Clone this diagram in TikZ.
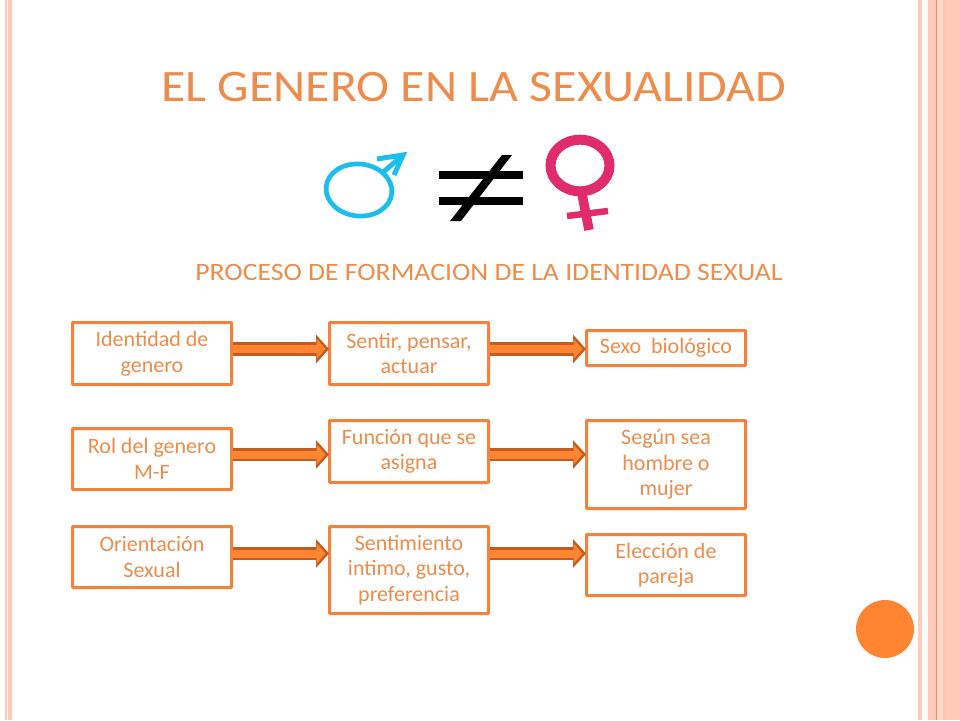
\documentclass[tikz,border=0pt]{standalone}
\usepackage{fontspec}
\setmainfont{Carlito}
\usetikzlibrary{arrows.meta}
\definecolor{bar}{RGB}{255,203,184}
\definecolor{barline}{RGB}{245,140,90}
\definecolor{tx}{RGB}{238,140,75}
\definecolor{bx}{RGB}{243,130,60}
\definecolor{fillo}{RGB}{255,133,51}
\definecolor{dk}{RGB}{196,92,32}
\definecolor{male}{RGB}{28,190,238}
\definecolor{fem}{RGB}{224,44,108}
\tikzset{
  x=1pt,y=-1pt,
  box/.style={draw=bx,line width=3pt,fill=white,inner sep=0pt,minimum width=159pt,text=tx,
    align=center,font=\fontsize{22}{25.5}\selectfont,rounded corners=0.8pt},
  blockarrow/.style={draw=dk,line width=13.5pt,shorten >=-1pt,-{Triangle[length=13pt,width=28pt]},
    postaction={draw=fillo,line width=8pt,shorten >=2.5pt,-{Triangle[length=9pt,width=20pt]}}},
  stripe/.style={fill=bar,draw=none},
  label/.style={text=tx,inner sep=0pt}
}
\begin{document}
\begin{tikzpicture}
\useasboundingbox (0,0) rectangle (960,720);
\fill[white] (0,0) rectangle (960,720);
% stripes
\fill[stripe] (5,0) rectangle (6.5,720);
\fill[stripe] (8,0) rectangle (11.5,720);
\fill[stripe] (918,0) rectangle (922,720);
\fill[stripe] (928,0) rectangle (960,720);
\fill[barline] (936.3,0) rectangle (937.3,720);
\fill[bar!75!white] (937.3,0) rectangle (943,720);
\fill[bar!90!barline] (943,0) rectangle (945,720);
% titles
\node[label,font=\fontsize{45}{46}\selectfont] (title) at (473.5,87) {\scalebox{1.108}[1]{EL GENERO EN LA SEXUALIDAD}};
\node[label,font=\fontsize{25}{26}\selectfont] (sub) at (489,272) {\scalebox{1.108}[1]{PROCESO DE FORMACION DE LA IDENTIDAD SEXUAL}};
% male
\draw[male,line width=4.7pt,rotate around={-6:(359,190)}] (359,190) ellipse [x radius=33,y radius=26];
\draw[male,line width=5pt] (381,174) -- (403,155);
\draw[male,line width=5pt,miter limit=10] (377,159) -- (403,155) -- (394,175);
% not equal
\fill[black] (439,171) rectangle (523,179);
\fill[black] (439,197) rectangle (523,205);
\fill[black] (502,155) -- (512,155) -- (461,221) -- (450,221) -- cycle;
% female
\draw[fem,line width=10pt] (580,165.5) ellipse [x radius=29.5,y radius=25.8];
\draw[fem,line width=9.5pt] (582,194) -- (589,230);
\draw[fem,line width=6.5pt] (567,216) -- (608,211);
% boxes
\node[box,minimum height=62pt] (a1) at (152,353.5) {Identidad de\\genero};
\node[box,minimum height=62pt] (b1) at (409,353.5) {Sentir, pensar,\\actuar};
\node[box,minimum height=35pt] (c1) at (666,348) {Sexo\ \ biológico};
\node[box,minimum height=61pt] (a2) at (152,459) {Rol del genero\\M-F};
\node[box,minimum height=62pt] (b2) at (409,451.5) {Función que se\\asigna};
\node[box,minimum height=88pt] (c2) at (666,464.5) {Según sea\\hombre o\\mujer};
\node[box,minimum height=61pt] (a3) at (152,557) {Orientación\\Sexual};
\node[box,minimum height=87pt] (b3) at (409,570) {Sentimiento\\intimo, gusto,\\preferencia};
\node[box,minimum height=61pt] (c3) at (666,565) {Elección de\\pareja};
% connectors
\draw[blockarrow] (a1.east |- 0,349) -- (b1.west |- 0,349);
\draw[blockarrow] (b1.east |- 0,349) -- (c1.west |- 0,349);
\draw[blockarrow] (a2.east |- 0,454.5) -- (b2.west |- 0,454.5);
\draw[blockarrow] (b2.east |- 0,454.5) -- (c2.west |- 0,454.5);
\draw[blockarrow] (a3.east |- 0,553.5) -- (b3.west |- 0,553.5);
\draw[blockarrow] (b3.east |- 0,553.5) -- (c3.west |- 0,553.5);
% circle
\fill[fillo] (885,629) circle [radius=29];
\end{tikzpicture}
\end{document}
